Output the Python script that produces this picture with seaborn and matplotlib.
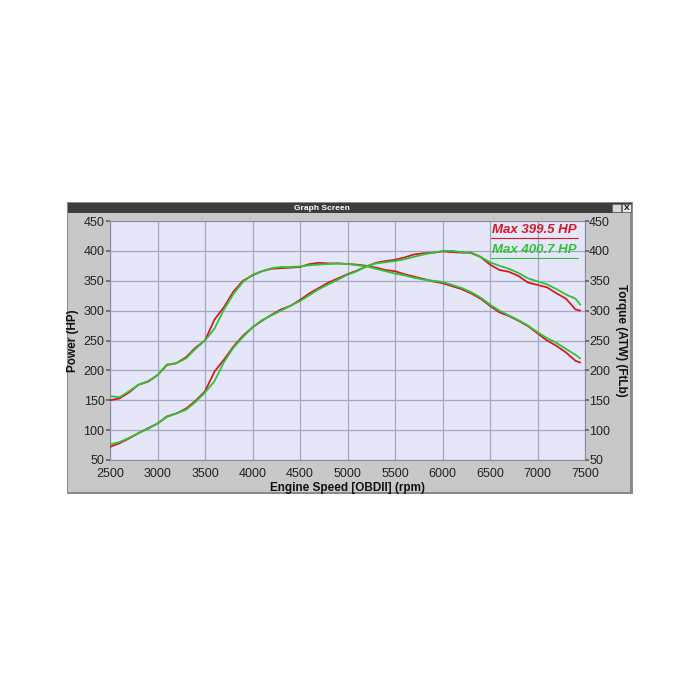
import numpy as np
import pandas as pd
import matplotlib.pyplot as plt
import seaborn as sns
from matplotlib.patches import Rectangle
from matplotlib.lines import Line2D

# engine speed samples (rpm)
rpm = list(range(2500, 7500, 100)) + [7450]

# run 1 (red) and run 2 (green), power in HP and torque in ft-lb
power_red = [72, 78, 86, 95, 103, 111, 123, 128, 136, 149, 165, 198, 218, 240, 258, 272,
             283, 293, 302, 308, 318, 329, 338, 347, 354, 361, 367, 374, 380, 383, 385,
             389, 394, 396, 397, 399, 398, 397, 397, 390, 377, 368, 365, 358, 347, 343,
             339, 329, 320, 302, 300]
power_green = [76, 80, 87, 95, 102, 111, 122, 128, 134, 147, 163, 182, 214, 238, 256, 272,
               284, 292, 300, 308, 316, 326, 336, 344, 352, 360, 366, 374, 379, 381, 383,
               386, 390, 394, 397, 400, 400, 398, 396, 390, 381, 375, 370, 363, 354, 349,
               344, 336, 327, 320, 310]
torque_red = [150, 153, 163, 176, 181, 192, 209, 212, 222, 238, 250, 285, 306, 332, 350,
              359, 366, 370, 371, 372, 373, 378, 380, 379, 379, 378, 377, 375, 372, 368,
              366, 361, 357, 353, 349, 346, 341, 336, 329, 320, 308, 297, 291, 283, 274,
              262, 250, 241, 230, 216, 213]
torque_green = [157, 155, 165, 176, 182, 192, 210, 212, 220, 236, 250, 270, 302, 328, 348,
                360, 366, 371, 373, 373, 374, 376, 377, 378, 379, 378, 376, 374, 370, 366,
                362, 359, 355, 352, 350, 348, 343, 338, 331, 322, 310, 300, 292, 284, 275,
                264, 254, 246, 236, 226, 220]

x_ticks = list(range(2500, 7501, 500))
y_ticks = list(range(50, 451, 50))
max_labels = ["Max 399.5 HP", "Max 400.7 HP"]

RED = "#d8182a"
GREEN = "#2ec435"

sns.set_theme(style="whitegrid")
plt.rcParams["font.family"] = ["Liberation Sans", "DejaVu Sans"]

fig = plt.figure(figsize=(7, 7), dpi=100)
fig.patch.set_facecolor("white")

# window frame (drawn behind the axes)
W, H = 700, 700
def fig_rect(x0, y0, x1, y1, **kw):
    fig.patches.append(Rectangle((x0 / W, 1 - y1 / H), (x1 - x0) / W, (y1 - y0) / H,
                                 transform=fig.transFigure, zorder=-5, **kw))

fig_rect(67, 202, 633, 494, facecolor="#8a8a8a", edgecolor="none")
fig_rect(68, 203, 630, 492, facecolor="#c8c8c8", edgecolor="none")
fig_rect(68, 203, 632, 213, facecolor="#3c3c3c", edgecolor="none")
fig_rect(612, 204, 621, 212, facecolor="#d8d8d8", edgecolor="#606060", linewidth=0.5)
fig_rect(622, 204, 631, 212, facecolor="#e8e8e8", edgecolor="#606060", linewidth=0.5)
fig.text(322 / W, 1 - 208 / H, "Graph Screen", color="white", fontsize=6,
         fontweight="bold", ha="center", va="center")
fig.text(626.5 / W, 1 - 208 / H, "X", color="black", fontsize=6,
         fontweight="bold", ha="center", va="center")

ax = fig.add_axes([110 / W, 1 - 460 / H, 475 / W, 239 / H])
ax.set_facecolor("#e5e6f8")

series = [(power_red, RED), (torque_red, RED), (power_green, GREEN), (torque_green, GREEN)]
for vals, col in series:
    df = pd.DataFrame({"rpm": rpm, "value": vals})
    sns.lineplot(data=df, x="rpm", y="value", color=col, linewidth=1.3, ax=ax, zorder=3)

ax.set_xlim(2500, 7500)
ax.set_ylim(50, 450)
ax.set_xticks(x_ticks)
ax.set_yticks(y_ticks)
ax.grid(True, color="#a4a6c6", linewidth=0.9)
for s in ax.spines.values():
    s.set_color("#8c8c9c")
    s.set_linewidth(0.8)
ax.tick_params(axis="both", labelsize=9, colors="#222222", length=3, pad=1,
               left=True, bottom=False)
ax.tick_params(axis="x", pad=3)
ax.tick_params(axis="y", color="#666666")
ax.set_xlabel("Engine Speed [OBDII] (rpm)", fontsize=8.5, fontweight="bold",
              color="#111111", labelpad=1)
ax.set_ylabel("Power (HP)", fontsize=8.5, fontweight="bold", color="#111111", labelpad=3)

ax2 = ax.twinx()
ax2.set_ylim(50, 450)
ax2.set_yticks(y_ticks)
ax2.grid(False)
for s in ax2.spines.values():
    s.set_visible(False)
ax2.tick_params(axis="y", labelsize=9, colors="#222222", length=3, pad=0, right=True,
                color="#666666")
ax2.set_ylabel("Torque (ATW) (FtLb)", fontsize=8.5, fontweight="bold", color="#111111",
               rotation=270, labelpad=12)

for label, col, yt, yl in [(max_labels[0], RED, 0.962, 0.928), (max_labels[1], GREEN, 0.879, 0.845)]:
    ax.text(0.805, yt, label, transform=ax.transAxes, color=col, fontsize=9.5,
            fontstyle="italic", fontweight="bold", ha="left", va="center", zorder=5)
    ax.add_line(Line2D([0.803, 0.986], [yl, yl], transform=ax.transAxes, color=col,
                       linewidth=0.8, zorder=5))

fig.savefig("out.png", dpi=100)
